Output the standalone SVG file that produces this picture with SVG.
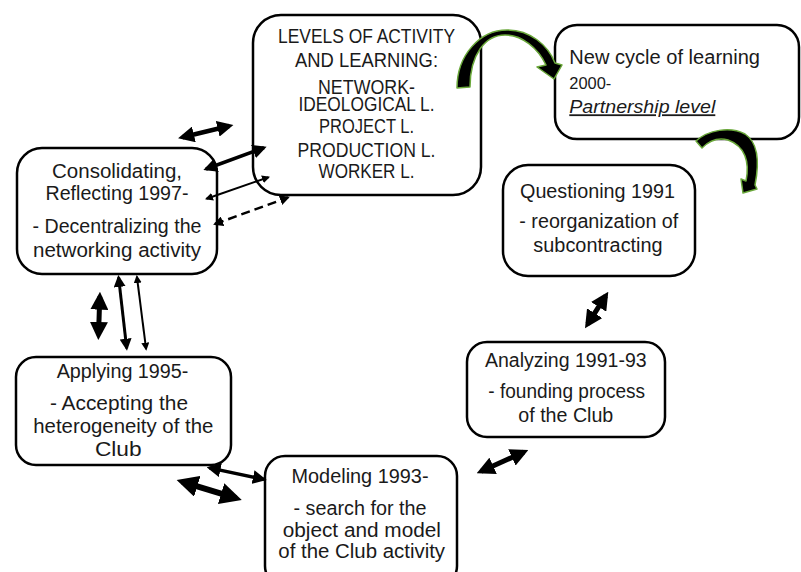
<svg xmlns="http://www.w3.org/2000/svg" width="801" height="572" viewBox="0 0 801 572">
<defs>
<style>
.box{fill:#fff;stroke:#000;stroke-width:2.5}
text{font-family:"Liberation Sans",Arial,sans-serif;font-size:20px;fill:#1a1a1a;text-anchor:middle}
.l{text-anchor:start}
.c{stroke:#000;fill:none}
.g{fill:#000;stroke:#6aa83a;stroke-width:1.5;stroke-linejoin:round}
</style>
<marker id="ah" viewBox="0 0 10 10" refX="8" refY="5" markerWidth="4" markerHeight="4" orient="auto-start-reverse"><path d="M0,0L10,5L0,10z"/></marker>
<marker id="ab" viewBox="0 0 10 10" refX="7.2" refY="5" markerWidth="3.6" markerHeight="3.6" orient="auto-start-reverse"><path d="M0,0L10,5L0,10z"/></marker>
</defs>
<rect width="801" height="572" fill="#fff"/>

<g id="levels">
<rect class="box" x="253" y="15" width="228" height="180" rx="28"/>
<text x="366.5" y="43.3" textLength="177" lengthAdjust="spacingAndGlyphs">LEVELS OF ACTIVITY</text>
<text x="366.5" y="66.7" textLength="143" lengthAdjust="spacingAndGlyphs">AND LEARNING:</text>
<text x="366.5" y="94" textLength="97" lengthAdjust="spacingAndGlyphs">NETWORK-</text>
<text x="366.5" y="110.7" textLength="136" lengthAdjust="spacingAndGlyphs">IDEOLOGICAL L.</text>
<text x="366.5" y="133.3" textLength="95" lengthAdjust="spacingAndGlyphs">PROJECT L.</text>
<text x="366.5" y="156.7" textLength="138" lengthAdjust="spacingAndGlyphs">PRODUCTION L.</text>
<text x="366.5" y="178.3" textLength="96" lengthAdjust="spacingAndGlyphs">WORKER L.</text>
</g>

<g id="newcycle">
<rect class="box" x="555" y="25" width="244" height="114" rx="22"/>
<text class="l" x="569.3" y="64" textLength="190.7" lengthAdjust="spacingAndGlyphs">New cycle of learning</text>
<text class="l" x="569.3" y="89.3" style="font-size:17px" textLength="42" lengthAdjust="spacingAndGlyphs">2000-</text>
<text class="l" x="569.3" y="113.3" style="font-size:18px;font-style:italic;text-decoration:underline" textLength="146" lengthAdjust="spacingAndGlyphs">Partnership level</text>
</g>

<g id="consolidating">
<rect class="box" x="17" y="148" width="200" height="126" rx="25"/>
<text x="117" y="178.3" textLength="130" lengthAdjust="spacingAndGlyphs">Consolidating,</text>
<text x="117" y="200" textLength="143" lengthAdjust="spacingAndGlyphs">Reflecting 1997-</text>
<text x="117" y="232.7" textLength="169" lengthAdjust="spacingAndGlyphs">- Decentralizing the</text>
<text x="117" y="256.7" textLength="168" lengthAdjust="spacingAndGlyphs">networking activity</text>
</g>

<g id="applying">
<rect class="box" x="16" y="357" width="215" height="108" rx="20"/>
<text x="122.5" y="378.3" textLength="131.7" lengthAdjust="spacingAndGlyphs">Applying 1995-</text>
<text x="119" y="410" textLength="138" lengthAdjust="spacingAndGlyphs">- Accepting the</text>
<text x="123.3" y="433.3" textLength="180" lengthAdjust="spacingAndGlyphs">heterogeneity of the</text>
<text x="118.3" y="455.7" textLength="46.7" lengthAdjust="spacingAndGlyphs">Club</text>
</g>

<g id="modeling">
<rect class="box" x="265" y="456" width="192" height="130" rx="20"/>
<text x="360" y="483.3" textLength="137" lengthAdjust="spacingAndGlyphs">Modeling 1993-</text>
<text x="360" y="515" textLength="133" lengthAdjust="spacingAndGlyphs">- search for the</text>
<text x="361.8" y="536.7" textLength="158.3" lengthAdjust="spacingAndGlyphs">object and model</text>
<text x="361.7" y="558.3" textLength="166.7" lengthAdjust="spacingAndGlyphs">of the Club activity</text>
</g>

<g id="analyzing">
<rect class="box" x="467" y="342" width="198" height="95" rx="20"/>
<text x="565.8" y="366.7" textLength="161.7" lengthAdjust="spacingAndGlyphs">Analyzing 1991-93</text>
<text x="566.7" y="398.3" textLength="156.7" lengthAdjust="spacingAndGlyphs">- founding process</text>
<text x="565.8" y="421.7" textLength="95" lengthAdjust="spacingAndGlyphs">of the Club</text>
</g>

<g id="questioning">
<rect class="box" x="503" y="165" width="192" height="111" rx="25"/>
<text x="597.5" y="198.3" textLength="155" lengthAdjust="spacingAndGlyphs">Questioning 1991</text>
<text x="598.8" y="228.3" textLength="159" lengthAdjust="spacingAndGlyphs">- reorganization of</text>
<text x="598" y="251.7" textLength="129.3" lengthAdjust="spacingAndGlyphs">subcontracting</text>
</g>

<g id="connectors">
<line class="c" x1="182.5" y1="137.2" x2="229" y2="126" stroke-width="4.5" marker-start="url(#ab)" marker-end="url(#ab)"/>
<line class="c" x1="206" y1="169" x2="264" y2="147.7" stroke-width="3.5" marker-start="url(#ah)" marker-end="url(#ah)"/>
<line class="c" x1="206.5" y1="198.8" x2="268.5" y2="177.2" stroke-width="2" marker-start="url(#ah)" marker-end="url(#ah)"/>
<line class="c" x1="215" y1="224" x2="288" y2="197.5" stroke-width="2.5" stroke-dasharray="9 5" marker-start="url(#ah)" marker-end="url(#ah)"/>
<line class="c" x1="99.8" y1="296.7" x2="98.5" y2="335" stroke-width="5" marker-start="url(#ab)" marker-end="url(#ab)"/>
<line class="c" x1="118.6" y1="277.4" x2="126.7" y2="348.3" stroke-width="3" marker-start="url(#ah)" marker-end="url(#ah)"/>
<line class="c" x1="136.9" y1="276.6" x2="146.1" y2="349.1" stroke-width="2" marker-start="url(#ah)" marker-end="url(#ah)"/>
<line class="c" x1="209.4" y1="467.9" x2="264" y2="479.4" stroke-width="3.5" marker-start="url(#ah)" marker-end="url(#ah)"/>
<line class="c" x1="182.4" y1="481.8" x2="236" y2="498.2" stroke-width="6" marker-start="url(#ab)" marker-end="url(#ab)"/>
<line class="c" x1="481.3" y1="471.2" x2="523.7" y2="452.1" stroke-width="5" marker-start="url(#ab)" marker-end="url(#ab)"/>
<line class="c" x1="587.7" y1="324.1" x2="605.6" y2="295.9" stroke-width="5" marker-start="url(#ab)" marker-end="url(#ab)"/>
<path class="g" d="M457,88 C457,55 480,30 507,30 C530,30 548,45 555,63 L562,65 L554,79 L537,67 L546,65 C538,48 522,35 505,35 C485,35 470,55 470,87 Z"/>
<path class="g" d="M696,141 C708,130 730,126 745,134 C757,142 760,160 755,185 L757,189 L743,193 L741,179 L746,181 C750,162 745,146 728,140 C717,137 708,142 702,148 Z"/>
</g>
</svg>
